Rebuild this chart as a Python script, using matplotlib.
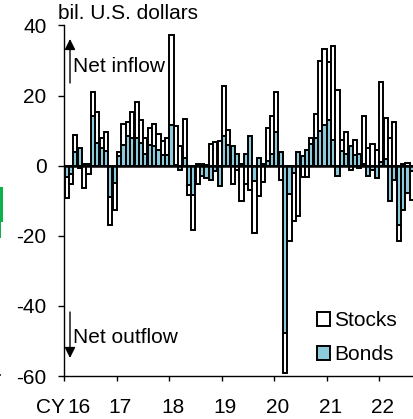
import numpy as np
import matplotlib
matplotlib.use("Agg")
import matplotlib.pyplot as plt
from matplotlib.patches import Patch, Rectangle
from matplotlib.transforms import ScaledTranslation

plt.rcParams["font.family"] = ["Liberation Sans", "DejaVu Sans"]
plt.rcParams["axes.unicode_minus"] = False

# Monthly flows, Jan 2016 onwards (bil. U.S. dollars)
bonds = [
    -3.3, -2.4, 3.8, 5.0, 0.5, 0.5, 14.1, 6.5, 5.0, 4.1, -8.8, -5.0,
    2.9, 6.0, 8.4, 7.9, 7.9, 6.5, 3.3, 6.0, 5.7, 4.6, 3.0, 3.0,
    11.7, 0.3, -1.1, 2.2, -5.4, -8.5, 0.5, -2.9, -3.5, -4.0, -1.6, -5.7,
    8.4, 6.0, 5.5, 3.3, 0.4, 3.3, 8.4, -4.5, 2.2, 0.5, 1.2, 3.3,
    9.5, 3.9, -47.8, -8.0, -2.0, 3.8, 2.7, 4.6, 6.2, 7.9, 10.0, 11.7,
    12.9, 7.4, -2.9, 4.1, 3.3, 5.5, 3.1, 3.3, 0.5, -2.9, -1.1, -3.5,
    1.0, 2.0, -10.2, -4.0, -17.0, -12.6, -7.9, -1.6,
]
stocks = [
    -5.9, -2.8, 5.1, -0.7, -6.4, -2.4, 6.9, 8.8, 2.9, 5.4, -8.2, -7.5,
    0.9, 5.9, 4.1, 7.4, 10.3, 6.5, 4.6, 4.8, 6.2, 4.4, 4.1, 4.9,
    25.7, 10.9, 5.5, 11.2, -3.1, -9.8, -5.2, 0.5, 0.3, 6.2, 6.8, 7.1,
    14.3, 4.2, -5.1, -1.1, -10.2, -5.1, -6.9, -14.7, -8.6, -4.7, 9.6, 10.8,
    11.5, -4.0, -11.4, -13.6, -13.9, -14.3, -3.3, -3.3, 1.7, 6.9, 20.0, 21.7,
    16.6, 26.7, 21.5, 3.3, 6.3, -1.1, 4.3, -0.6, 13.6, 5.0, 6.2, 4.6,
    22.8, 11.6, 7.9, 12.5, -4.6, 0.5, 0.8, -8.1,
]
year_ticks = [0, 12, 24, 36, 48, 60, 72]
year_labels = ["16", "17", "18", "19", "20", "21", "22"]
y_ticks = [40, 20, 0, -20, -40, -60]

BOND_COLOR = "#8CCADC"
FONT_SIZE = 15
W, H = 414, 419

bonds = np.array(bonds)
stocks = np.array(stocks)
months = np.arange(len(bonds)) + 0.5

fig = plt.figure(figsize=(W / 100, H / 100), dpi=100)
ax = fig.add_axes([64.5 / W, 1 - 376 / H, (W - 64.5) / W, 350.5 / H])

# stocks stack on top of bonds only when both have the same sign
stock_bottom = np.where(np.sign(stocks) == np.sign(bonds), bonds, 0)
ax.bar(months, stocks, bottom=stock_bottom, width=0.95, color="white",
       edgecolor="black", linewidth=1.4)
ax.bar(months, bonds, width=0.95, color=BOND_COLOR,
       edgecolor="black", linewidth=1.4)
ax.axhline(0, color="black", linewidth=1.8, zorder=4)

ax.set_xlim(0, 80)
ax.set_ylim(-60, 40)
ax.set_yticks(y_ticks)
ax.set_xticks(year_ticks)
ax.set_xticklabels(year_labels)
ax.tick_params(axis="y", labelsize=FONT_SIZE, length=4.5, width=1, pad=8.5)
ax.tick_params(axis="x", labelsize=FONT_SIZE, length=3.8, width=1, pad=11.7)
for side in ["top", "right"]:
    ax.spines[side].set_visible(False)
ax.spines["left"].set_linewidth(1)
ax.spines["bottom"].set_linewidth(1)

# year labels sit a little right of their ticks, "16" further to clear CY
for i, label in enumerate(ax.get_xticklabels()):
    dx = 15 if i == 0 else 3.5
    label.set_transform(label.get_transform()
                        + ScaledTranslation(dx / 100, 0, fig.dpi_scale_trans))

fig.text(36 / W, 1 - 413 / H, "CY", fontsize=FONT_SIZE, va="baseline")
fig.text(58 / W, 1 - 19 / H, "bil. U.S. dollars", fontsize=FONT_SIZE, va="baseline")
fig.text(73 / W, 1 - 72 / H, "Net inflow", fontsize=FONT_SIZE, va="baseline")
fig.text(73 / W, 1 - 343 / H, "Net outflow", fontsize=FONT_SIZE, va="baseline")

arrow_style = dict(arrowstyle="-|>", mutation_scale=16, color="black", lw=1,
                   shrinkA=0, shrinkB=0)
ax.annotate("", xy=(70 / W, 1 - 39 / H), xytext=(70 / W, 1 - 83 / H),
            xycoords="figure fraction", textcoords="figure fraction",
            arrowprops=arrow_style)
ax.annotate("", xy=(70 / W, 1 - 358 / H), xytext=(70 / W, 1 - 312 / H),
            xycoords="figure fraction", textcoords="figure fraction",
            arrowprops=arrow_style)

handles = [Patch(facecolor="white", edgecolor="black", linewidth=1.4),
           Patch(facecolor=BOND_COLOR, edgecolor="black", linewidth=1.4)]
ax.legend(handles, ["Stocks", "Bonds"], frameon=False, fontsize=FONT_SIZE,
          handlelength=0.62, handleheight=0.62, handletextpad=0.2, labelspacing=0.72,
          loc="upper left", bbox_to_anchor=(317 / W, 1 - 311.5 / H),
          bbox_transform=fig.transFigure, borderaxespad=0, borderpad=0)

# stray bits of a neighbouring panel at the left edge of the crop
fig.add_artist(Rectangle((0, 1 - 222 / H), 3 / W, 35 / H, color="#0DB14B", lw=0))
fig.add_artist(Rectangle((0, 1 - 238 / H), 1 / W, 16 / H, color="#0DB14B", lw=0))
fig.add_artist(Rectangle((0, 1 - 376 / H), 1 / W, 2 / H, color="#444444", lw=0))

fig.savefig("out.png", dpi=100)
